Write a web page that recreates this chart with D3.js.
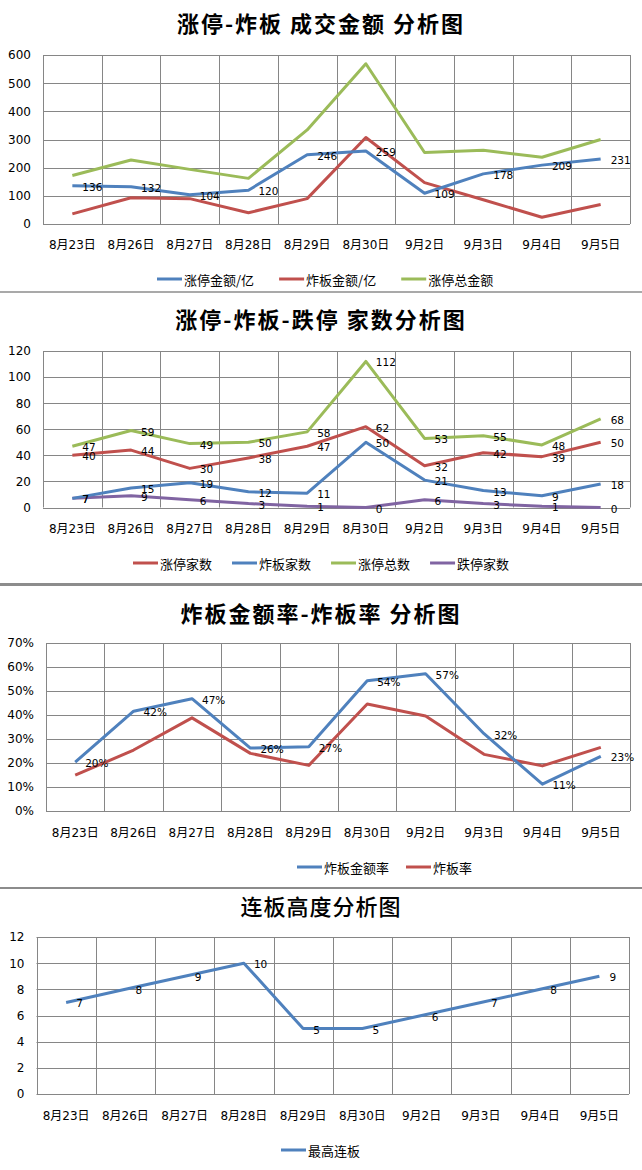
<!DOCTYPE html>
<html><head><meta charset="utf-8">
<script src="https://cdn.jsdelivr.net/npm/d3@7"></script>
<style>body{margin:0;background:#fff}svg{display:block}</style>
</head><body><svg id="c" width="642" height="1170"></svg>
<script>
const dates = ["8月23日","8月26日","8月27日","8月28日","8月29日","8月30日","9月2日","9月3日","9月4日","9月5日"];
// chart 1
const ztAmount = [136,132,104,120,246,259,109,178,209,231];
const zbAmount = [36,93,90,40,90,307,147,86,24,69];
const ztTotalAmount = [172,227,194,162,334,569,254,262,237,300];
// chart 2
const ztCount = [40,44,30,38,47,62,32,42,39,50];
const zbCount = [7,15,19,12,11,50,21,13,9,18];
const ztTotal = [47,59,49,50,58,112,53,55,48,68];
const dtCount = [7,9,6,3,1,0,6,3,1,0];
// chart 3
const zbAmountRate = [0.204,0.416,0.468,0.262,0.268,0.543,0.572,0.322,0.112,0.228];
const zbRate = [0.149,0.254,0.388,0.240,0.190,0.446,0.396,0.236,0.188,0.265];
// chart 4
const maxBoard = [7,8,9,10,5,5,6,7,8,9];

const C = {blue:"#4F81BD", red:"#C0504D", green:"#9BBB59", purple:"#8064A2"};
const svg = d3.select("#c");
const NUMF = "'DejaVu Sans','Noto Sans CJK SC',sans-serif";
const CJKF = "'Noto Sans CJK SC','DejaVu Sans',sans-serif";

function drawChart(o){
  const g = svg.append("g");
  g.append("text").attr("x",o.titleX||321).attr("y",o.titleY).attr("text-anchor","middle")
    .attr("dominant-baseline","central").attr("font-family",CJKF).attr("font-size",o.titleSize||22)
    .attr("font-weight",o.titleWeight||700).attr("letter-spacing",o.titleLS||2).attr("fill","#000").text(o.title);
  const x = d3.scaleBand().domain(dates).range([o.left,o.right]);
  const y = d3.scaleLinear().domain([0,o.ymax]).range([o.bottom,o.top]);
  const ticks = d3.range(0,o.ymax+o.step/2,o.step);
  // gridlines
  g.append("g").selectAll("line").data(ticks).join("line")
    .attr("x1",o.left).attr("x2",o.right).attr("y1",d=>Math.round(y(d))+0.5).attr("y2",d=>Math.round(y(d))+0.5)
    .attr("stroke","#868686").attr("stroke-width",1);
  const bounds = dates.map(d=>x(d)).concat([o.right]);
  g.append("g").selectAll("line").data(bounds).join("line")
    .attr("x1",d=>Math.round(d)+0.5).attr("x2",d=>Math.round(d)+0.5).attr("y1",o.top).attr("y2",o.bottom)
    .attr("stroke","#868686").attr("stroke-width",1);
  // y axis labels
  const ya = d3.axisLeft(y).tickValues(ticks).tickSize(0).tickPadding(o.ypad||12).tickFormat(o.yfmt||(d=>d));
  const yg = g.append("g").attr("transform",`translate(${o.left},0)`).call(ya);
  yg.select(".domain").remove();
  yg.selectAll("text").attr("font-family",NUMF).attr("font-size",12).attr("fill","#000");
  // x axis labels
  const xa = d3.axisBottom(x).tickSize(0).tickPadding(0);
  const xg = g.append("g").attr("transform",`translate(0,${o.xLabelY})`).call(xa);
  xg.select(".domain").remove();
  xg.selectAll("text").attr("font-family",NUMF).attr("font-size",12).attr("fill","#000")
    .attr("dy","0.35em");
  // series
  const line = d3.line().x((d,i)=>x(dates[i])+x.bandwidth()/2).y(d=>y(d));
  o.series.forEach(s=>{
    g.append("path").datum(s.values).attr("d",line).attr("fill","none")
      .attr("stroke",s.color).attr("stroke-width",3).attr("stroke-linejoin","round");
  });
  o.series.forEach(s=>{
    if(!s.labels) return;
    g.append("g").selectAll("text").data(s.values).join("text")
      .attr("x",(d,i)=>x(dates[i])+x.bandwidth()/2+(o.lblDx||10))
      .attr("y",d=>y(d)+1).attr("dominant-baseline","central")
      .attr("font-family",NUMF).attr("font-size",10.5).attr("fill","#000")
      .text(d=>o.lblfmt?o.lblfmt(d):d);
  });
  // legend
  let lx = o.legendX;
  o.legendOrder.forEach(s=>{
    g.append("line").attr("x1",lx).attr("x2",lx+25).attr("y1",o.legendY).attr("y2",o.legendY)
      .attr("stroke",s.color).attr("stroke-width",3);
    const t = g.append("text").attr("x",lx+27).attr("y",o.legendY).attr("dominant-baseline","central")
      .attr("font-family",CJKF).attr("font-size",13).attr("fill","#000").text(s.name);
    lx += 27 + t.node().getComputedTextLength() + (o.legendGap||20);
  });
}

const s1 = [
  {name:"涨停金额/亿", color:C.blue, values:ztAmount, labels:true},
  {name:"炸板金额/亿", color:C.red, values:zbAmount},
  {name:"涨停总金额", color:C.green, values:ztTotalAmount}
];
drawChart({title:"涨停-炸板 成交金额 分析图", titleY:22, left:43, right:630, top:55, bottom:224, ymax:600, step:100,
  xLabelY:245, series:[s1[2],s1[1],s1[0]], legendOrder:s1, legendX:157, legendY:279, legendGap:25});

const s2 = [
  {name:"涨停家数", color:C.red, values:ztCount, labels:true},
  {name:"炸板家数", color:C.blue, values:zbCount, labels:true},
  {name:"涨停总数", color:C.green, values:ztTotal, labels:true},
  {name:"跌停家数", color:C.purple, values:dtCount, labels:true}
];
drawChart({title:"涨停-炸板-跌停 家数分析图", titleY:318, left:43, right:630, top:351, bottom:507.5, ymax:120, step:20,
  xLabelY:529, series:[s2[3],s2[1],s2[0],s2[2]], legendOrder:s2, legendX:133, legendY:563, legendGap:20});

const s3 = [
  {name:"炸板金额率", color:C.blue, values:zbAmountRate, labels:true},
  {name:"炸板率", color:C.red, values:zbRate}
];
drawChart({title:"炸板金额率-炸板率 分析图", titleY:612, left:46, right:630, top:643, bottom:811, ymax:0.7, step:0.1,
  yfmt:d=>Math.round(d*100)+"%", lblfmt:d=>Math.round(d*100)+"%",
  xLabelY:833, series:[s3[1],s3[0]], legendOrder:s3, legendX:297, legendY:867, legendGap:17});

const s4 = [{name:"最高连板", color:C.blue, values:maxBoard, labels:true}];
drawChart({title:"连板高度分析图", titleY:905, titleWeight:500, titleLS:1, left:36.5, right:629, top:937, bottom:1094, ymax:12, step:2,
  xLabelY:1116, series:s4, legendOrder:s4, legendX:281, legendY:1150});

// separators
[[292,1.5],[584.5,3],[888,2]].forEach(([yy,w])=>{
  svg.append("line").attr("x1",0).attr("x2",642).attr("y1",yy).attr("y2",yy)
    .attr("stroke","#8c8c8c").attr("stroke-width",w);
});
</script></body></html>
